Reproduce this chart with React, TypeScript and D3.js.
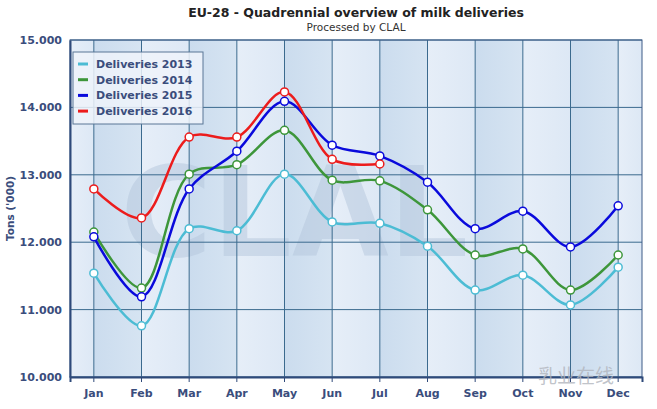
import React, { useEffect, useRef } from 'react';
import * as d3 from 'd3';

const months = ['Jan', 'Feb', 'Mar', 'Apr', 'May', 'Jun', 'Jul', 'Aug', 'Sep', 'Oct', 'Nov', 'Dec'];
const deliveries2013 = [11540, 10760, 12200, 12170, 13010, 12300, 12280, 11940, 11290, 11510, 11070, 11630];
const deliveries2014 = [12150, 11320, 13010, 13150, 13660, 12920, 12910, 12480, 11810, 11900, 11290, 11810];
const deliveries2015 = [12080, 11190, 12790, 13350, 14090, 13440, 13280, 12890, 12200, 12460, 11930, 12540];
const deliveries2016 = [12790, 12360, 13560, 13560, 14230, 13230, 13160];
const yTicks = [10000, 11000, 12000, 13000, 14000, 15000];

const series = [
    { name: 'Deliveries 2013', color: '#4cbcd4', values: deliveries2013 },
    { name: 'Deliveries 2014', color: '#3d963a', values: deliveries2014 },
    { name: 'Deliveries 2015', color: '#0a0adc', values: deliveries2015 },
    { name: 'Deliveries 2016', color: '#ec1c1c', values: deliveries2016 },
];

const W = 657;
const H = 409;
const labelColor = '#3a4d7c';

export default function App() {
    const svgRef = useRef<SVGSVGElement>(null);

    useEffect(() => {
        if (!svgRef.current) return;
        const svg = d3.select(svgRef.current);
        svg.selectAll('*').remove();

        const margin = { top: 40, right: 15, bottom: 32, left: 70 };
        const width = W - margin.left - margin.right;
        const height = H - margin.top - margin.bottom;

        const x = d3.scaleBand().domain(months).range([0, width]);
        const cx = (m: string) => x(m)! + x.bandwidth() / 2;
        const y = d3.scaleLinear().domain([10000, 15000]).range([height, 0]);

        const locale = d3.formatLocale({ decimal: ',', thousands: '.', grouping: [3], currency: ['', ''] });
        const fmt = locale.format(',.0f');

        // Title
        svg.append('text')
            .attr('x', 356).attr('y', 17)
            .attr('text-anchor', 'middle')
            .style('font-family', 'DejaVu Sans')
            .style('font-weight', 'bold')
            .style('font-size', '12.5px')
            .attr('fill', '#222')
            .text('EU-28 - Quadrennial overview of milk deliveries');
        svg.append('text')
            .attr('x', 356).attr('y', 31)
            .attr('text-anchor', 'middle')
            .style('font-family', 'DejaVu Sans')
            .style('font-size', '10.5px')
            .attr('fill', '#333')
            .text('Processed by CLAL');

        const defs = svg.append('defs');
        const gDark = defs.append('linearGradient').attr('id', 'bandDark');
        gDark.append('stop').attr('offset', '0%').attr('stop-color', '#cbdcee');
        gDark.append('stop').attr('offset', '100%').attr('stop-color', '#d6e4f2');
        const gLight = defs.append('linearGradient').attr('id', 'bandLight');
        gLight.append('stop').attr('offset', '0%').attr('stop-color', '#e6eef8');
        gLight.append('stop').attr('offset', '100%').attr('stop-color', '#dde8f5');

        const g = svg.append('g').attr('transform', `translate(${margin.left},${margin.top})`);

        // Background bands between month lines
        const edges = [0, ...months.map(cx), width];
        for (let i = 0; i < edges.length - 1; i++) {
            g.append('rect')
                .attr('x', edges[i]).attr('y', 0)
                .attr('width', edges[i + 1] - edges[i]).attr('height', height)
                .attr('fill', i % 2 === 1 ? 'url(#bandDark)' : 'url(#bandLight)');
        }

        // Watermark
        g.append('text')
            .attr('x', cx('May') + 10).attr('y', y(11800))
            .attr('text-anchor', 'middle')
            .style('font-family', 'DejaVu Sans')
            .style('font-weight', 'bold')
            .style('font-size', '125px')
            .attr('fill', '#b4c6dc')
            .attr('fill-opacity', 0.5)
            .text('CLAL');

        // Grid
        g.append('g').selectAll('line.h').data(yTicks).join('line')
            .attr('x1', 0).attr('x2', width)
            .attr('y1', d => y(d)).attr('y2', d => y(d))
            .attr('stroke', '#3b6a8e').attr('stroke-width', 1);
        g.append('g').selectAll('line.v').data(months).join('line')
            .attr('x1', d => cx(d)).attr('x2', d => cx(d))
            .attr('y1', 0).attr('y2', height)
            .attr('stroke', '#3b6a8e').attr('stroke-width', 1);

        // Frame
        g.append('rect')
            .attr('width', width).attr('height', height)
            .attr('fill', 'none').attr('stroke', '#3d5a86').attr('stroke-width', 1);

        // Axes
        const yAxis = g.append('g')
            .call(d3.axisLeft(y).tickValues(yTicks).tickFormat(d => fmt(+d)).tickSize(0).tickPadding(8));
        yAxis.select('.domain').attr('stroke', '#2f4a7a').attr('stroke-width', 2);
        yAxis.selectAll('text')
            .style('font-family', 'DejaVu Sans').style('font-weight', 'bold')
            .style('font-size', '11px').attr('fill', labelColor);

        const xAxis = g.append('g')
            .attr('transform', `translate(0,${height})`)
            .call(d3.axisBottom(x).tickSize(5).tickPadding(7));
        xAxis.select('.domain').attr('stroke', '#2f4a7a').attr('stroke-width', 2);
        xAxis.selectAll('.tick line').attr('stroke', '#2f4a7a');
        xAxis.selectAll('text')
            .style('font-family', 'DejaVu Sans').style('font-weight', 'bold')
            .style('font-size', '11px').attr('fill', labelColor);

        svg.append('text')
            .attr('transform', `translate(14,${margin.top + height / 2}) rotate(-90)`)
            .attr('text-anchor', 'middle')
            .style('font-family', 'DejaVu Sans').style('font-weight', 'bold')
            .style('font-size', '10.5px').attr('fill', labelColor)
            .text("Tons ('000)");

        // Lines
        const line = d3.line<number>()
            .x((_, i) => cx(months[i]))
            .y(d => y(d))
            .curve(d3.curveCatmullRom.alpha(0.5));

        series.forEach(s => {
            g.append('path')
                .datum(s.values)
                .attr('fill', 'none')
                .attr('stroke', s.color)
                .attr('stroke-width', 2.5)
                .attr('d', line);
            g.append('g').selectAll('circle').data(s.values).join('circle')
                .attr('cx', (_, i) => cx(months[i]))
                .attr('cy', d => y(d))
                .attr('r', 4)
                .attr('fill', '#fff')
                .attr('stroke', s.color)
                .attr('stroke-width', 1.5);
        });

        // Legend
        const lg = svg.append('g').attr('transform', 'translate(73,52)');
        lg.append('rect')
            .attr('width', 130).attr('height', 72)
            .attr('fill', '#eef3fa').attr('fill-opacity', 0.85)
            .attr('stroke', '#5a7796').attr('stroke-width', 1);
        series.forEach((s, i) => {
            const yy = 12 + i * 15.7;
            lg.append('line')
                .attr('x1', 5).attr('x2', 15).attr('y1', yy).attr('y2', yy)
                .attr('stroke', s.color).attr('stroke-width', 3);
            lg.append('text')
                .attr('x', 23).attr('y', yy + 4)
                .style('font-family', 'DejaVu Sans').style('font-weight', 'bold')
                .style('font-size', '11px').attr('fill', labelColor)
                .text(s.name);
        });

        // Source watermark
        svg.append('text')
            .attr('x', 538).attr('y', 383)
            .style('font-family', 'Noto Sans CJK SC')
            .style('font-size', '19px')
            .attr('fill', '#b0b4bc').attr('fill-opacity', 0.8)
            .text('乳业在线');
    }, []);

    return (
        <div style={{ position: 'absolute', left: 0, top: 0, width: W, height: H, background: '#fff' }}>
            <svg ref={svgRef} width={W} height={H} />
        </div>
    );
}
